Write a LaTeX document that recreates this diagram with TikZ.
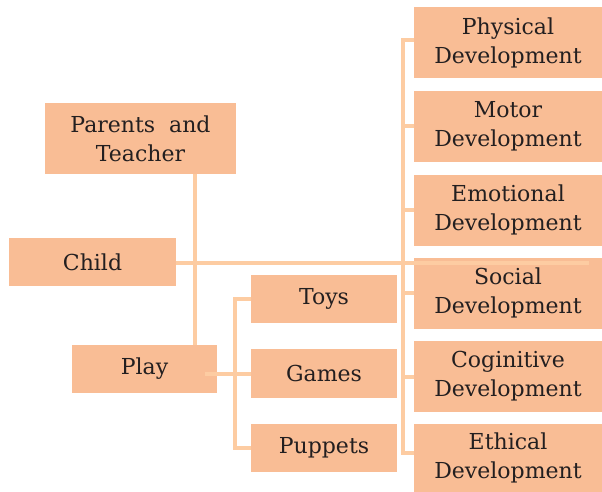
\documentclass[tikz,border=0pt]{standalone}
\usepackage{fontspec}
\setmainfont{DejaVu Serif}
\begin{document}
\definecolor{boxfill}{HTML}{F9BD95}
\definecolor{linkcol}{HTML}{FDCCA2}
\definecolor{ink}{HTML}{231F20}
\begin{tikzpicture}[x=1pt,y=-1pt,
  box/.style={fill=boxfill, draw=none, inner sep=0pt, align=center, text=ink,
    font=\fontsize{22}{29}\selectfont},
  conn/.style={draw=linkcol, line width=4pt}]
\useasboundingbox (0,0) rectangle (602,492);
% left-hand boxes
\node[box, minimum width=191pt, minimum height=71pt] (pt) at (140.5,138.5) {Parents\ \ and\\Teacher};
\node[box, minimum width=167pt, minimum height=48pt] (child) at (92.5,262) {Child};
\node[box, minimum width=145pt, minimum height=48pt] (play) at (144.5,369) {Play};
% play items
\node[box, minimum width=146pt, minimum height=48pt] (toys) at (324,299) {Toys};
\node[box, minimum width=146pt, minimum height=49pt] (games) at (324,373.5) {Games};
\node[box, minimum width=146pt, minimum height=48pt] (puppets) at (324,448) {Puppets};
% development column
\node[box, minimum width=188pt, minimum height=71pt] (phys) at (508,42.5) {Physical\\Development};
\node[box, minimum width=188pt, minimum height=71pt] (motor) at (508,126.5) {Motor\\Development};
\node[box, minimum width=188pt, minimum height=71pt] (emo) at (508,210) {Emotional\\Development};
\node[box, minimum width=188pt, minimum height=71pt] (soc) at (508,293) {Social\\Development};
\node[box, minimum width=188pt, minimum height=71pt] (cog) at (508,376.5) {Coginitive\\Development};
\node[box, minimum width=188pt, minimum height=68pt] (eth) at (508,458) {Ethical\\Development};
% guide coordinates
\coordinate (vx) at (195,0);
\coordinate (lb) at (235,0);
\coordinate (rb) at (403,0);
\coordinate (childend) at (589,263);
% parents -- play
\draw[conn] (pt.south -| vx) -- (play.north -| vx);
% child line
\draw[conn] (child.east |- childend) -- (childend);
% play bracket
\draw[conn] ([xshift=-12pt]play.east |- games.west) -- (games.west);
\draw[conn] (toys.west) -- (toys.west -| lb) -- (puppets.west -| lb) -- (puppets.west);
% development bracket
\draw[conn] ([yshift=2.5pt]phys.west) -- ([yshift=2.5pt]phys.west -| rb) -- ([yshift=5pt]eth.west -| rb) -- ([yshift=5pt]eth.west);
\draw[conn] (motor.west) -- (motor.west -| rb);
\draw[conn] (emo.west) -- (emo.west -| rb);
\draw[conn] (soc.west) -- (soc.west -| rb);
\draw[conn] (cog.west) -- (cog.west -| rb);
\end{tikzpicture}
\end{document}
